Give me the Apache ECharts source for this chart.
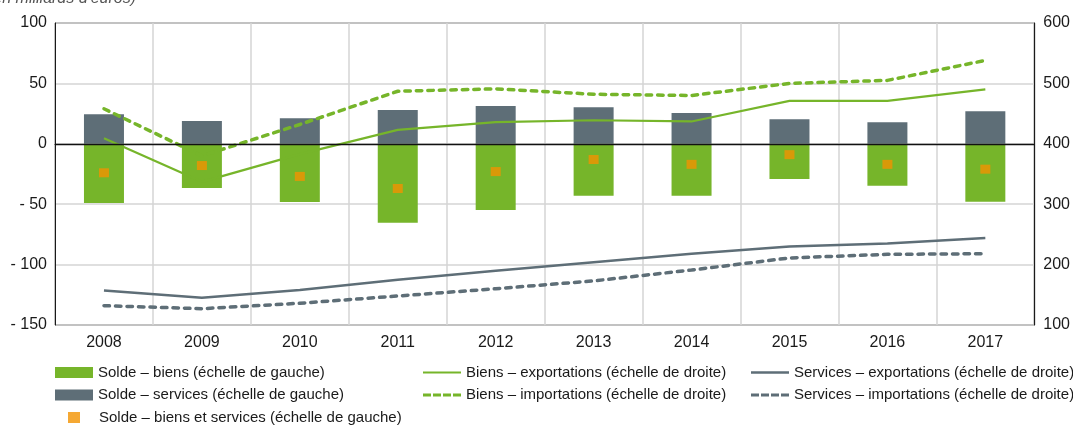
<!DOCTYPE html>
<html>
<head>
<meta charset="utf-8">
<script src="https://cdn.jsdelivr.net/npm/echarts@6/dist/echarts.min.js"></script>
<style>
html,body{margin:0;padding:0;background:#fff;}
#c{width:1073px;height:426px;}
</style>
</head>
<body>
<div id="c"></div>
<script>
const years = ['2008','2009','2010','2011','2012','2013','2014','2015','2016','2017'];
const soldeBiens = [-49, -36.6, -48.2, -65.3, -54.8, -43, -43, -29.2, -34.7, -47.9];
const soldeServices = [24.5, 18.8, 21.2, 27.9, 31.2, 30.3, 25.4, 20.4, 17.9, 27];
const soldeTotal = [-24, -18, -27, -37, -23, -13, -17, -9, -17, -21];
const biensExport = [409, 337, 383, 423, 436, 439, 437, 471, 471, 490];
const biensImport = [458, 380, 432, 487, 491, 482, 480, 500, 505, 538];
const servicesExport = [157, 145, 158, 175, 190, 204, 218, 230, 235, 244];
const servicesImport = [132, 127, 136, 148, 160, 173, 191, 211, 217, 218];
const leftTicks = { min: -150, max: 100, interval: 50 };
const rightTicks = { min: 100, max: 600, interval: 100 };

const GREEN = '#76b52a', GRAY = '#5e6e77', ORANGE = '#f39200';
const FONT = "'Liberation Sans', Arial, sans-serif";
const TXT = '#1a1a1a';
const DASH_ICON = 'path://M0,0h8v3h-8z M10,0h8v3h-8z M20,0h8v3h-8z M30,0h8v3h-8z';

const names = {
  sb: 'Solde – biens (échelle de gauche)',
  ss: 'Solde – services (échelle de gauche)',
  st: 'Solde – biens et services (échelle de gauche)',
  be: 'Biens – exportations (échelle de droite)',
  bi: 'Biens – importations (échelle de droite)',
  se: 'Services – exportations (échelle de droite)',
  si: 'Services – importations (échelle de droite)'
};

function lg(name, left, rowC, w, h, icon, extraText) {
  return {
    data: [{ name: name, icon: icon }], left: left, top: rowC - 8, padding: 0,
    itemWidth: w, itemHeight: h, selectedMode: false,
    textStyle: Object.assign({ fontFamily: FONT, fontSize: 15, color: TXT, lineHeight: 16 }, extraText || {})
  };
}

const chart = echarts.init(document.getElementById('c'), null, { renderer: 'canvas' });
chart.setOption({
  animation: false,
  textStyle: { fontFamily: FONT },
  graphic: [{
    type: 'text', x: 136, y: 7,
    style: { text: "(en milliards d'euros)", font: "italic 16px " + FONT, fill: '#555', align: 'right', verticalAlign: 'bottom' }
  }],
  grid: { left: 55, right: 35, top: 23, bottom: 101, show: true, borderColor: '#1a1a1a', borderWidth: 1, backgroundColor: 'transparent' },
  legend: [
    lg(names.sb, 55, 372.5, 38, 11, 'rect'),
    lg(names.ss, 55, 395, 38, 11, 'rect'),
    lg(names.st, 68, 417.5, 12, 11, 'rect', { padding: [0, 0, 0, 14] }),
    lg(names.be, 423, 372.5, 38, 2, 'rect'),
    lg(names.bi, 423, 395, 38, 3.5, DASH_ICON),
    lg(names.se, 751, 372.5, 38, 2.5, 'rect'),
    lg(names.si, 751, 395, 38, 3.5, DASH_ICON)
  ],
  xAxis: {
    type: 'category', data: years, boundaryGap: true,
    axisLine: { show: true, lineStyle: { color: '#1a1a1a', width: 1 } },
    axisTick: { show: false },
    axisLabel: { interval: 0, margin: 10, fontSize: 16, color: TXT, fontFamily: FONT },
    splitLine: { show: true, interval: 0, lineStyle: { color: '#d4d4d4', width: 1.5 } }
  },
  yAxis: [{
    type: 'value', min: leftTicks.min, max: leftTicks.max, interval: leftTicks.interval,
    axisLine: { show: true, lineStyle: { color: '#1a1a1a', width: 1 } },
    axisTick: { show: false },
    axisLabel: { margin: 8, fontSize: 16, color: TXT, fontFamily: FONT,
      formatter: v => v < 0 ? '- ' + (-v) : String(v) },
    splitLine: { show: true, lineStyle: { color: '#d4d4d4', width: 1.5 } }
  }, {
    type: 'value', min: rightTicks.min, max: rightTicks.max, interval: rightTicks.interval,
    position: 'right',
    axisLine: { show: true, lineStyle: { color: '#1a1a1a', width: 1 } },
    axisTick: { show: false },
    axisLabel: { margin: 9, fontSize: 16, color: TXT, fontFamily: FONT },
    splitLine: { show: false }
  }],
  series: [
    { name: names.sb, type: 'bar', stack: 'solde', data: soldeBiens, barWidth: 40, yAxisIndex: 0,
      itemStyle: { color: GREEN }, z: 2,
      markLine: { silent: true, symbol: 'none', label: { show: false },
        lineStyle: { color: '#111', width: 1.3, type: 'solid' }, data: [{ yAxis: 0 }] } },
    { name: names.ss, type: 'bar', stack: 'solde', data: soldeServices, barWidth: 40, yAxisIndex: 0,
      itemStyle: { color: GRAY }, z: 2 },
    { name: names.be, type: 'line', data: biensExport, yAxisIndex: 1, symbol: 'none', z: 3,
      lineStyle: { color: GREEN, width: 2.2 }, itemStyle: { color: GREEN } },
    { name: names.bi, type: 'line', data: biensImport, yAxisIndex: 1, symbol: 'none', z: 3,
      lineStyle: { color: GREEN, width: 3.5, type: [5.5, 6], cap: 'round' }, itemStyle: { color: GREEN } },
    { name: names.se, type: 'line', data: servicesExport, yAxisIndex: 1, symbol: 'none', z: 3,
      lineStyle: { color: GRAY, width: 2.5 }, itemStyle: { color: GRAY } },
    { name: names.si, type: 'line', data: servicesImport, yAxisIndex: 1, symbol: 'none', z: 3,
      lineStyle: { color: GRAY, width: 3.5, type: [5.5, 6], cap: 'round' }, itemStyle: { color: GRAY } },
    { name: names.st, type: 'scatter', data: soldeTotal, yAxisIndex: 0, symbol: 'rect', symbolSize: [10, 9], z: 4,
      itemStyle: { color: ORANGE } }
  ]
});
</script>
</body>
</html>
